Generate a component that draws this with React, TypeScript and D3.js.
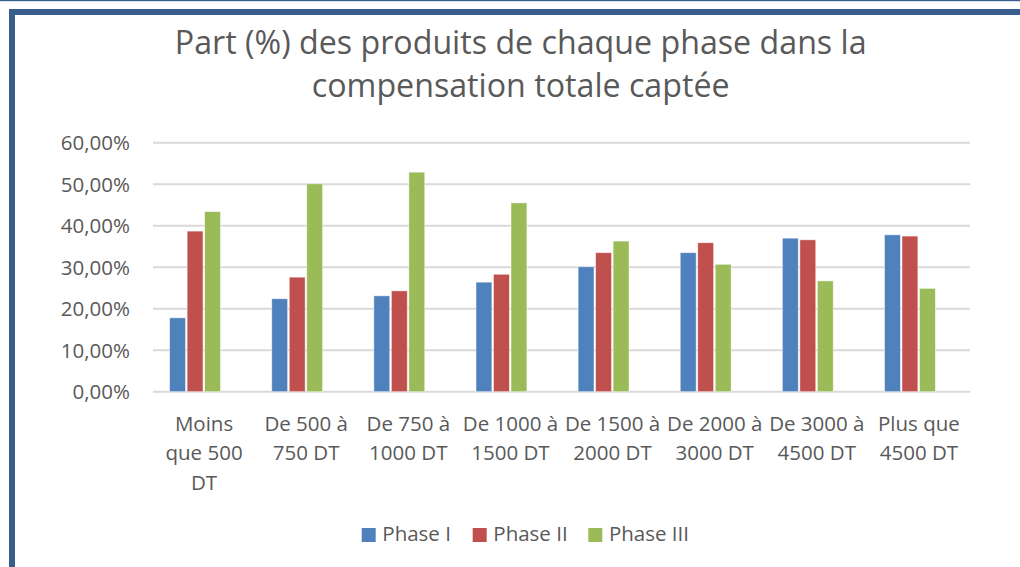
import React from 'react';
import * as d3 from 'd3';

const categories = [
  'Moins que 500 DT',
  'De 500 à 750 DT',
  'De 750 à 1000 DT',
  'De 1000 à 1500 DT',
  'De 1500 à 2000 DT',
  'De 2000 à 3000 DT',
  'De 3000 à 4500 DT',
  'Plus que 4500 DT',
];
const categoryLines = [
  ['Moins', 'que 500', 'DT'],
  ['De 500 à', '750 DT'],
  ['De 750 à', '1000 DT'],
  ['De 1000 à', '1500 DT'],
  ['De 1500 à', '2000 DT'],
  ['De 2000 à', '3000 DT'],
  ['De 3000 à', '4500 DT'],
  ['Plus que', '4500 DT'],
];
const seriesNames = ['Phase I', 'Phase II', 'Phase III'];
const phaseI = [17.8, 22.4, 23.1, 26.4, 30.1, 33.5, 37.0, 37.8];
const phaseII = [38.7, 27.6, 24.3, 28.3, 33.5, 35.9, 36.6, 37.5];
const phaseIII = [43.4, 50.1, 52.9, 45.5, 36.3, 30.7, 26.7, 24.9];
const yTicks = [0, 10, 20, 30, 40, 50, 60];
const titleLines = ['Part (%) des produits de chaque phase dans la', 'compensation totale captée'];

const colors = ['#4F81BD', '#C0504D', '#9BBB59'];
const FONT = '"Open Sans", "Noto Sans", sans-serif';
const TEXT = '#595959';
const SMALL = 20.5;

export default function App() {
  const series = [phaseI, phaseII, phaseIII];
  const x = d3.scaleBand<string>().domain(categories).range([153, 970]);
  const y = d3.scaleLinear().domain([0, 60]).range([391.7, 142.7]);
  const groupW = 52.5;
  const inner = d3.scaleBand<string>().domain(seriesNames).range([0, groupW]);
  const fmt = (v: number) => d3.format('.2f')(v).replace('.', ',') + '%';

  const legendX = [361.7, 472.7, 588.3];

  return (
    <svg width={1020} height={567} style={{ position: 'absolute', left: 0, top: 0, background: '#fff' }} fontFamily={FONT}>
      <rect x={0} y={0} width={1020} height={567} fill="#fff" />
      {/* frame */}
      <rect x={0} y={0} width={1020} height={1.2} fill="#395E8E" />
      <rect x={9} y={9} width={1011} height={6} fill="#395E8E" />
      <rect x={9} y={9} width={6} height={558} fill="#395E8E" />

      {/* title */}
      {titleLines.map((t, i) => (
        <text key={i} x={520.7} y={53.5 + i * 43} textAnchor="middle" fontSize={32.2} fill={TEXT}>{t}</text>
      ))}

      {/* gridlines */}
      {yTicks.map((t) => (
        <line key={t} x1={153} x2={970} y1={y(t)} y2={y(t)} stroke="#D9D9D9" strokeWidth={2} />
      ))}
      {/* y labels */}
      {yTicks.map((t) => (
        <text key={'l' + t} x={130} y={y(t)} dy="0.36em" textAnchor="end" fontSize={SMALL} fill={TEXT}>{fmt(t)}</text>
      ))}

      {/* bars */}
      {categories.map((c, ci) => {
        const gx = (x(c) as number) + x.bandwidth() / 2 - 9 - groupW / 2;
        return (
          <g key={c}>
            {series.map((s, si) => (
              <rect
                key={si}
                x={gx + (inner(seriesNames[si]) as number) + 0.8}
                y={y(s[ci])}
                width={inner.bandwidth() - 1.6}
                height={y(0) - y(s[ci])}
                fill={colors[si]}
                stroke="#fff"
                strokeOpacity={0.6}
                strokeWidth={0.8}
              />
            ))}
          </g>
        );
      })}

      {/* x labels */}
      {categories.map((c, ci) => (
        <text key={'x' + c} textAnchor="middle" fontSize={SMALL} fill={TEXT}>
          {categoryLines[ci].map((ln, li) => (
            <tspan key={li} x={(x(c) as number) + x.bandwidth() / 2} y={430.7 + li * 29.4}>{ln}</tspan>
          ))}
        </text>
      ))}

      {/* legend */}
      {seriesNames.map((n, i) => (
        <g key={n}>
          <rect x={legendX[i]} y={528} width={14} height={14} fill={colors[i]} />
          <text x={legendX[i] + 20.6} y={540.7} fontSize={SMALL} fill={TEXT}>{n}</text>
        </g>
      ))}
    </svg>
  );
}
